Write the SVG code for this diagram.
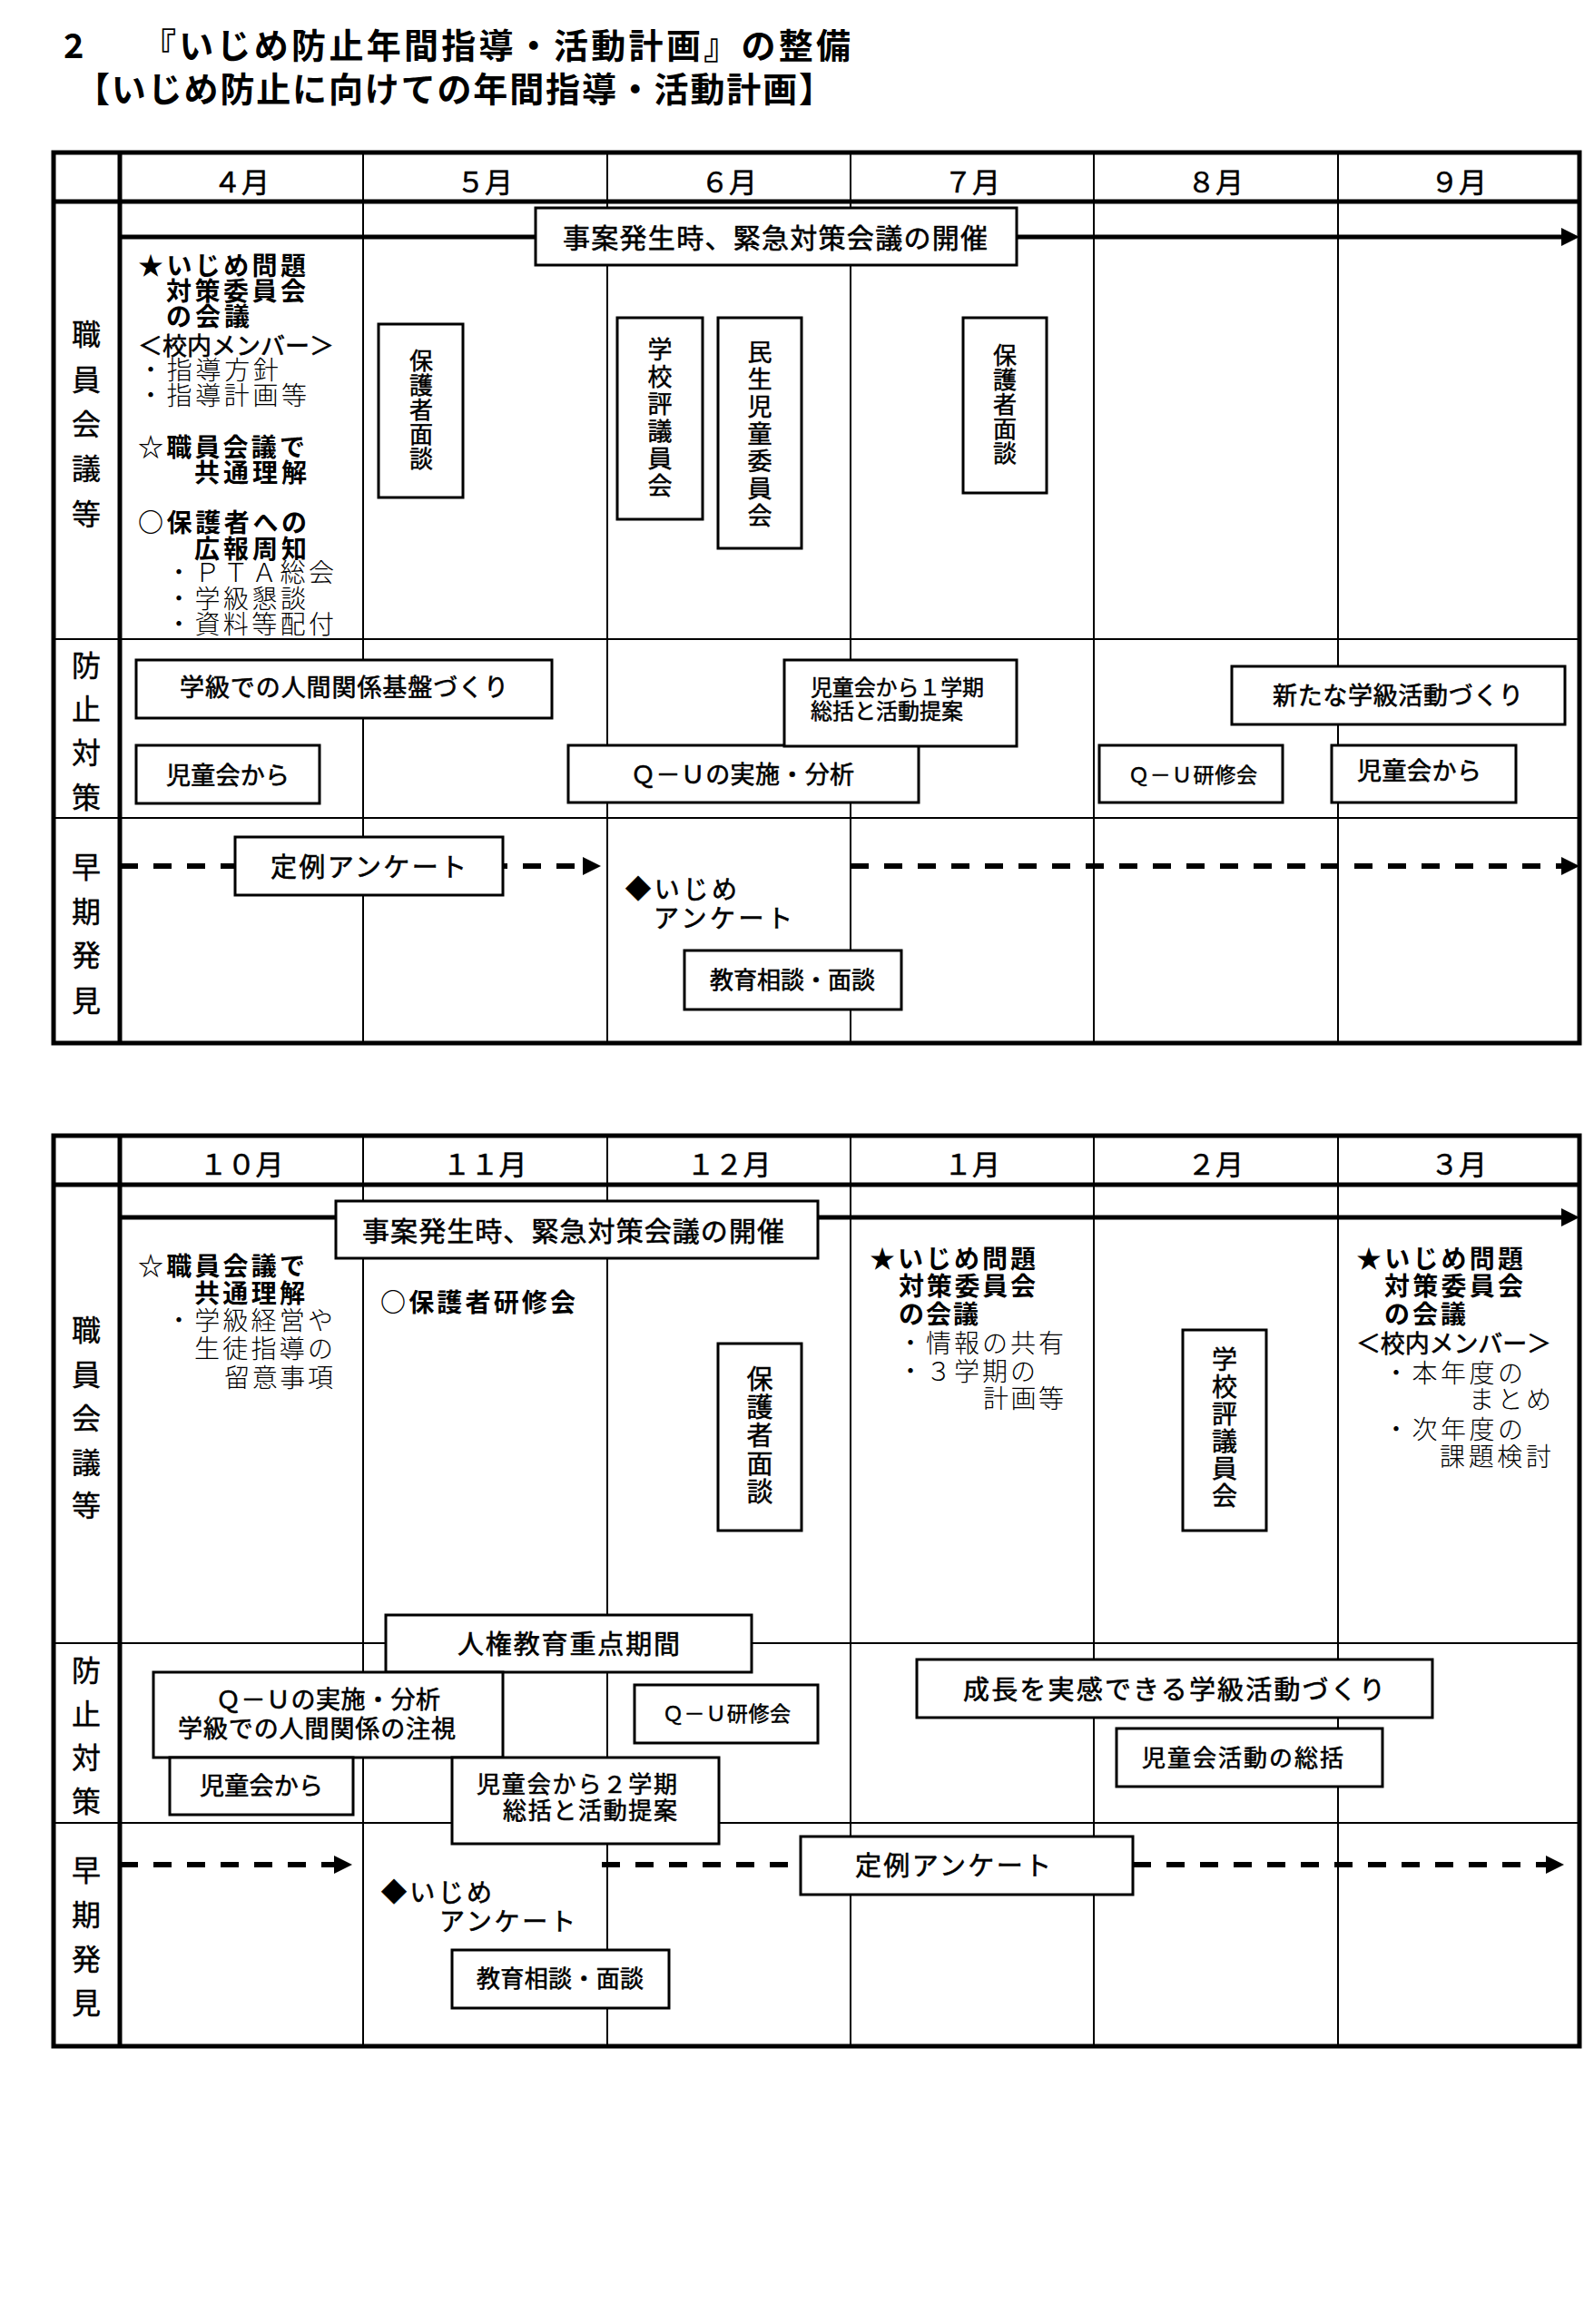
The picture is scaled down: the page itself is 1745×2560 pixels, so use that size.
<svg xmlns="http://www.w3.org/2000/svg" width="1745" height="2560" viewBox="0 0 1745 2560">
<defs>
<style>
text{font-family:"Noto Sans CJK JP","Noto Sans CJK SC",sans-serif;fill:#000}
.title{font-size:38px;font-weight:700}
.mon{font-size:31px;text-anchor:middle;stroke:#000;stroke-width:0.5}
.lab{font-size:32px;text-anchor:middle;stroke:#000;stroke-width:0.4}
.gb{font-size:28px;font-weight:700}
.g{font-size:27px;font-weight:400;stroke:#000;stroke-width:0.6}
.m{font-size:28px;font-weight:300;stroke:none}
.bx{font-size:27px;stroke:#000;stroke-width:0.6}
.sm{font-size:24px;stroke:#000;stroke-width:0.5}
.em{font-size:30px;stroke:#000;stroke-width:0.6}
.vt{writing-mode:vertical-rl;stroke:#000;stroke-width:0.5}
.box{fill:#fff;stroke:#000;stroke-width:3}
.thick{stroke:#000;stroke-width:5;fill:none}
.thin{stroke:#000;stroke-width:2;fill:none}
.arrow{stroke:#000;stroke-width:5;fill:none}
.dash{stroke:#000;stroke-width:6;fill:none;stroke-dasharray:20 17}
</style>
<marker id="ah" markerUnits="userSpaceOnUse" markerWidth="20" markerHeight="20" refX="0" refY="10" orient="auto" viewBox="0 0 20 20"><path d="M0,0 L20,10 L0,20 z" fill="#000"/></marker>
</defs>
<rect x="0" y="0" width="1745" height="2560" fill="#fff"/>

<g id="title">
<text class="title" x="70" y="64">2</text>
<text class="title" x="156" y="64" textLength="781">『いじめ防止年間指導・活動計画』の整備</text>
<text class="title" x="83" y="112" textLength="835">【いじめ防止に向けての年間指導・活動計画】</text>
</g>

<g id="grid-top">
<rect x="59" y="168" width="1681" height="981" class="thick"/>
<path class="thin" d="M400,168V1149M669,168V1149M937,168V1149M1205,168V1149M1474,168V1149M59,704H1740M59,901H1740"/>
<path class="thick" d="M59,222H1740M132,168V1149"/>
<text class="mon" x="266" y="212">４月</text>
<text class="mon" x="534" y="212">５月</text>
<text class="mon" x="803" y="212">６月</text>
<text class="mon" x="1071" y="212">７月</text>
<text class="mon" x="1339" y="212">８月</text>
<text class="mon" x="1607" y="212">９月</text>
<text class="lab"><tspan x="95" y="380">職</tspan><tspan x="95" y="430">員</tspan><tspan x="95" y="479">会</tspan><tspan x="95" y="528">議</tspan><tspan x="95" y="578">等</tspan></text>
<text class="lab"><tspan x="95" y="745">防</tspan><tspan x="95" y="793">止</tspan><tspan x="95" y="841">対</tspan><tspan x="95" y="890">策</tspan></text>
<text class="lab"><tspan x="95" y="967">早</tspan><tspan x="95" y="1016">期</tspan><tspan x="95" y="1064">発</tspan><tspan x="95" y="1114">見</tspan></text>
</g>

<g id="grid-bottom">
<rect x="59" y="1251" width="1681" height="1003" class="thick"/>
<path class="thin" d="M400,1251V2254M669,1251V2254M937,1251V2254M1205,1251V2254M1474,1251V2254M59,1810H1740M59,2008H1740"/>
<path class="thick" d="M59,1305H1740M132,1251V2254"/>
<text class="mon" x="266" y="1294">１０月</text>
<text class="mon" x="534" y="1294">１１月</text>
<text class="mon" x="803" y="1294">１２月</text>
<text class="mon" x="1071" y="1294">１月</text>
<text class="mon" x="1339" y="1294">２月</text>
<text class="mon" x="1607" y="1294">３月</text>
<text class="lab"><tspan x="95" y="1477">職</tspan><tspan x="95" y="1526">員</tspan><tspan x="95" y="1574">会</tspan><tspan x="95" y="1623">議</tspan><tspan x="95" y="1670">等</tspan></text>
<text class="lab"><tspan x="95" y="1852">防</tspan><tspan x="95" y="1900">止</tspan><tspan x="95" y="1948">対</tspan><tspan x="95" y="1996">策</tspan></text>
<text class="lab"><tspan x="95" y="2072">早</tspan><tspan x="95" y="2121">期</tspan><tspan x="95" y="2170">発</tspan><tspan x="95" y="2218">見</tspan></text>
</g>

<g id="connectors">
<line class="arrow" x1="132" y1="261" x2="1720" y2="261" marker-end="url(#ah)"/>
<line class="dash" x1="132" y1="954" x2="642" y2="954" marker-end="url(#ah)"/>
<line class="dash" x1="937" y1="954" x2="1720" y2="954" marker-end="url(#ah)"/>
<line class="arrow" x1="132" y1="1341" x2="1720" y2="1341" marker-end="url(#ah)"/>
<line class="dash" x1="132" y1="2054" x2="368" y2="2054" marker-end="url(#ah)"/>
<line class="dash" x1="663" y1="2054" x2="882" y2="2054"/>
<line class="dash" x1="1248" y1="2054" x2="1703" y2="2054" marker-end="url(#ah)"/>
</g>

<g id="apr-notes">
<text class="gb"><tspan x="152" y="303" textLength="185">★いじめ問題</tspan><tspan x="183" y="331" textLength="154">対策委員会</tspan><tspan x="183" y="359" textLength="92">の会議</tspan><tspan class="g" x="152" y="391" textLength="216">＜校内メンバー＞</tspan><tspan class="m" x="152" y="418" textLength="155">・指導方針</tspan><tspan class="m" x="152" y="446" textLength="186">・指導計画等</tspan><tspan x="152" y="503" textLength="184">☆職員会議で</tspan><tspan x="214" y="531" textLength="124">共通理解</tspan><tspan x="152" y="586" textLength="186">○保護者への</tspan><tspan x="214" y="615" textLength="124">広報周知</tspan><tspan class="m" x="183" y="641" textLength="185">・ＰＴＡ総会</tspan><tspan class="m" x="183" y="670" textLength="154">・学級懇談</tspan><tspan class="m" x="183" y="698" textLength="185">・資料等配付</tspan></text>
</g>

<g id="emergency-top">
<rect class="box" x="590" y="229" width="530" height="63"/>
<text class="em" x="620" y="273" textLength="468">事案発生時、緊急対策会議の開催</text>
</g>

<g id="may-parent">
<rect class="box" x="417" y="357" width="93" height="191"/>
<text class="vt" style="font-size:26px;letter-spacing:1px" x="464" y="384">保護者面談</text>
</g>
<g id="jun-hyogi">
<rect class="box" x="680" y="350" width="94" height="222"/>
<text class="vt" style="font-size:27px;letter-spacing:3px" x="727" y="371">学校評議員会</text>
</g>
<g id="jun-minsei">
<rect class="box" x="791" y="350" width="92" height="254"/>
<text class="vt" style="font-size:27px;letter-spacing:3px" x="837" y="374">民生児童委員会</text>
</g>
<g id="jul-parent">
<rect class="box" x="1061" y="350" width="92" height="193"/>
<text class="vt" style="font-size:26px;letter-spacing:1px" x="1107" y="378">保護者面談</text>
</g>

<g id="class-base">
<rect class="box" x="150" y="727" width="458" height="64"/>
<text class="bx" x="198" y="767" textLength="362">学級での人間関係基盤づくり</text>
</g>
<g id="council-top1">
<rect class="box" x="150" y="821" width="202" height="64"/>
<text class="bx" x="183" y="864" textLength="136">児童会から</text>
</g>
<g id="qu-top">
<rect class="box" x="626" y="821" width="386" height="63"/>
<text class="bx" x="695" y="863" textLength="246">Ｑ－Ｕの実施・分析</text>
</g>
<g id="council-term1">
<rect class="box" x="864" y="727" width="256" height="95"/>
<text class="sm"><tspan x="893" y="766" textLength="191">児童会から１学期</tspan><tspan x="893" y="792" textLength="168">総括と活動提案</tspan></text>
</g>
<g id="new-class">
<rect class="box" x="1357" y="734" width="367" height="64"/>
<text class="bx" x="1402" y="776" textLength="276">新たな学級活動づくり</text>
</g>
<g id="qu-training-top">
<rect class="box" x="1211" y="821" width="202" height="63"/>
<text class="sm" style="font-size:23px" x="1243" y="862" textLength="142">Ｑ－Ｕ研修会</text>
</g>
<g id="council-top2">
<rect class="box" x="1467" y="821" width="203" height="63"/>
<text class="bx" x="1495" y="859" textLength="137">児童会から</text>
</g>

<g id="survey-top">
<rect class="box" x="259" y="922" width="295" height="64"/>
<text class="bx" style="font-size:29px" x="298" y="966" textLength="216">定例アンケート</text>
</g>
<g id="ijime-survey-top">
<text class="g" style="font-size:28px"><tspan x="689" y="990" textLength="123">◆いじめ</tspan><tspan x="720" y="1022" textLength="153">アンケート</tspan></text>
</g>
<g id="consult-top">
<rect class="box" x="754" y="1047" width="239" height="65"/>
<text class="bx" style="font-size:26px" x="782" y="1089" textLength="182">教育相談・面談</text>
</g>

<g id="emergency-bottom">
<rect class="box" x="370" y="1323" width="531" height="63"/>
<text class="em" x="399" y="1367" textLength="465">事案発生時、緊急対策会議の開催</text>
</g>

<g id="oct-notes">
<text class="gb"><tspan x="152" y="1405" textLength="184">☆職員会議で</tspan><tspan x="214" y="1435" textLength="122">共通理解</tspan><tspan class="m" x="183" y="1465" textLength="184">・学級経営や</tspan><tspan class="m" x="214" y="1496" textLength="153">生徒指導の</tspan><tspan class="m" x="247" y="1528" textLength="120">留意事項</tspan></text>
</g>
<g id="nov-notes">
<text class="gb" x="419" y="1445" textLength="215">○保護者研修会</text>
</g>
<g id="dec-parent">
<rect class="box" x="791" y="1480" width="92" height="206"/>
<text class="vt" style="font-size:29px;letter-spacing:2px" x="837" y="1504">保護者面談</text>
</g>
<g id="jan-notes">
<text class="gb"><tspan x="958" y="1397" textLength="183">★いじめ問題</tspan><tspan x="990" y="1427" textLength="151">対策委員会</tspan><tspan x="990" y="1458" textLength="88">の会議</tspan><tspan class="m" x="989" y="1490" textLength="183">・情報の共有</tspan><tspan class="m" x="989" y="1521" textLength="152">・３学期の</tspan><tspan class="m" x="1083" y="1551" textLength="89">計画等</tspan></text>
</g>
<g id="feb-hyogi">
<rect class="box" x="1303" y="1465" width="92" height="221"/>
<text class="vt" style="font-size:28px;letter-spacing:2px" x="1349" y="1483">学校評議員会</text>
</g>
<g id="mar-notes">
<text class="gb"><tspan x="1494" y="1397" textLength="184">★いじめ問題</tspan><tspan x="1525" y="1427" textLength="153">対策委員会</tspan><tspan x="1525" y="1458" textLength="90">の会議</tspan><tspan class="g" x="1494" y="1490" textLength="215">＜校内メンバー＞</tspan><tspan class="m" x="1524" y="1523" textLength="154">・本年度の</tspan><tspan class="m" x="1618" y="1552" textLength="91">まとめ</tspan><tspan class="m" x="1524" y="1585" textLength="154">・次年度の</tspan><tspan class="m" x="1586" y="1615" textLength="123">課題検討</tspan></text>
</g>

<g id="human-rights">
<rect class="box" x="425" y="1779" width="403" height="63"/>
<text class="bx" style="font-size:29px" x="504" y="1822" textLength="245">人権教育重点期間</text>
</g>
<g id="qu-bottom">
<rect class="box" x="169" y="1842" width="385" height="94"/>
<text class="bx"><tspan x="238" y="1882" textLength="247">Ｑ－Ｕの実施・分析</tspan><tspan x="196" y="1914" textLength="306">学級での人間関係の注視</tspan></text>
</g>
<g id="council-bottom1">
<rect class="box" x="187" y="1936" width="202" height="63"/>
<text class="bx" x="220" y="1977" textLength="136">児童会から</text>
</g>
<g id="council-term2">
<rect class="box" x="498" y="1936" width="294" height="95"/>
<text class="bx" style="font-size:26px"><tspan x="525" y="1975" textLength="221">児童会から２学期</tspan><tspan x="554" y="2004" textLength="192">総括と活動提案</tspan></text>
</g>
<g id="qu-training-bottom">
<rect class="box" x="699" y="1856" width="202" height="64"/>
<text class="sm" style="font-size:23px" x="730" y="1896" textLength="141">Ｑ－Ｕ研修会</text>
</g>
<g id="growth-class">
<rect class="box" x="1010" y="1828" width="568" height="64"/>
<text class="bx" style="font-size:29px" x="1061" y="1872" textLength="465">成長を実感できる学級活動づくり</text>
</g>
<g id="council-summary">
<rect class="box" x="1230" y="1904" width="293" height="64"/>
<text class="bx" style="font-size:26px" x="1258" y="1946" textLength="222">児童会活動の総括</text>
</g>

<g id="ijime-survey-bottom">
<text class="g" style="font-size:28px"><tspan x="420" y="2095" textLength="122">◆いじめ</tspan><tspan x="484" y="2127" textLength="150">アンケート</tspan></text>
</g>
<g id="consult-bottom">
<rect class="box" x="498" y="2148" width="239" height="64"/>
<text class="bx" style="font-size:26px" x="525" y="2189" textLength="184">教育相談・面談</text>
</g>
<g id="survey-bottom">
<rect class="box" x="882" y="2023" width="366" height="64"/>
<text class="bx" style="font-size:29px" x="942" y="2066" textLength="216">定例アンケート</text>
</g>
</svg>
